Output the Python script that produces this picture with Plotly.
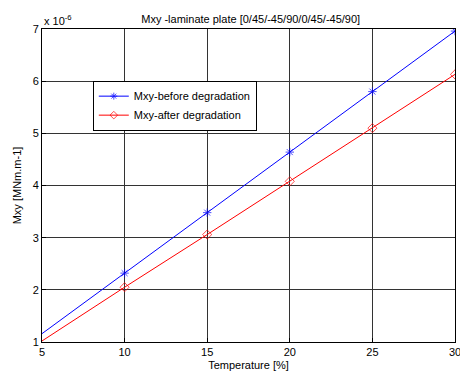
import plotly.graph_objects as go

temperature = [5, 10, 15, 20, 25, 30]
mxy_before = [1.16, 2.32, 3.48, 4.64, 5.80, 6.96]
mxy_after = [1.02, 2.05, 3.06, 4.08, 5.10, 6.13]
marker_sizes = [0, 7, 7, 7, 7, 7]
x_ticks = [5, 10, 15, 20, 25, 30]
y_ticks = [1, 2, 3, 4, 5, 6, 7]

font = "Liberation Sans, Arial, sans-serif"

fig = go.Figure()
fig.add_trace(go.Scatter(
    x=temperature, y=mxy_before, mode="lines+markers",
    name="Mxy-before degradation",
    line=dict(color="#0000ff", width=1),
    marker=dict(symbol="asterisk", size=marker_sizes, color="#0000ff",
                line=dict(color="#0000ff", width=1)),
))
fig.add_trace(go.Scatter(
    x=temperature, y=mxy_after, mode="lines+markers",
    name="Mxy-after degradation",
    line=dict(color="#ff0000", width=1),
    marker=dict(symbol="diamond-open", size=marker_sizes, color="#ff0000",
                line=dict(color="#ff0000", width=1)),
))

fig.update_layout(
    width=460, height=374,
    margin=dict(l=42, r=5, t=29, b=32, autoexpand=False),
    paper_bgcolor="white", plot_bgcolor="white",
    font=dict(family=font, size=11, color="black"),
    title=dict(text="Mxy -laminate plate [0/45/-45/90/0/45/-45/90]",
               x=0.545, xanchor="center", y=0.95, yanchor="middle",
               font=dict(size=11)),
    showlegend=True,
    legend=dict(x=0.123, y=0.835, xanchor="left", yanchor="top",
                bgcolor="white", bordercolor="black", borderwidth=1,
                font=dict(size=11), tracegroupgap=0, itemwidth=30),
)
fig.update_xaxes(
    range=[5, 30], tickvals=x_ticks, ticktext=[str(v) for v in x_ticks],
    showgrid=True, gridcolor="#333333", gridwidth=1,
    showline=True, linecolor="black", linewidth=1, mirror=True,
    ticks="inside", ticklen=4, tickcolor="black",
    zeroline=False, ticklabeloverflow="allow", automargin=False,
    title=dict(text="Temperature [%]", standoff=4, font=dict(size=11)),
)
fig.update_yaxes(
    range=[1, 7], tickvals=y_ticks, ticktext=[str(v) for v in y_ticks],
    showgrid=True, gridcolor="#333333", gridwidth=1,
    showline=True, linecolor="black", linewidth=1, mirror=True,
    ticks="inside", ticklen=4, tickcolor="black",
    zeroline=False, ticklabeloverflow="allow", automargin=False,
    title=dict(text="Mxy [MNm.m-1]", standoff=8, font=dict(size=11)),
)
fig.add_annotation(
    text="x 10<sup>-6</sup>", xref="paper", yref="paper",
    x=0.0, y=1.0, xanchor="left", yanchor="bottom", showarrow=False,
    font=dict(size=11), yshift=0,
)

fig.write_html("out.html")
